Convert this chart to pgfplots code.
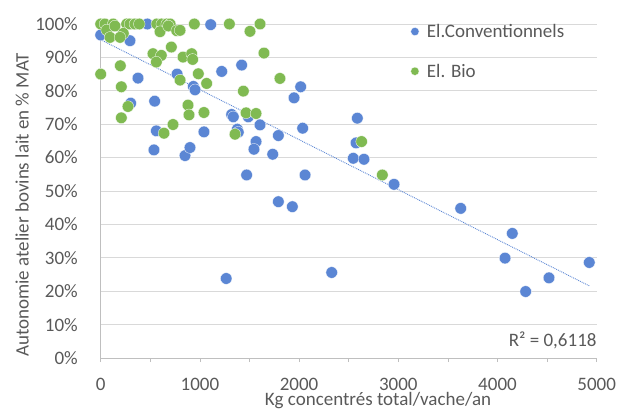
\documentclass[border=0pt]{standalone}
\usepackage{fontspec}
\setmainfont{Carlito}
\usepackage{pgfplots}
\pgfplotsset{compat=1.18}

\definecolor{txt}{RGB}{89,89,89}
\definecolor{gridc}{RGB}{217,217,217}
\definecolor{axc}{RGB}{191,191,191}
\definecolor{conv}{RGB}{91,134,212}
\definecolor{bio}{RGB}{128,186,82}

\begin{document}
\begin{tikzpicture}
\useasboundingbox (-100.7bp,-58bp) rectangle (516.3bp,358bp);
\begin{axis}[
    at={(0,0)}, anchor=south west,
    scale only axis, width=496bp, height=334bp,
    xmin=0, xmax=5000, ymin=0, ymax=100,
    clip=false,
    axis lines*=left,
    axis line style={axc, line width=0.75bp},
    xtick={0,1000,...,5000},
    minor xtick={500,1500,2500,3500,4500},
    ytick={0,10,...,100},
    yticklabel={\pgfmathprintnumber{\tick}\%},
    /pgf/number format/assume math mode=true,
    /pgf/number format/set thousands separator={},
    ymajorgrids,
    grid style={gridc, line width=0.75bp},
    tick align=outside,
    major tick length=4bp, minor tick length=4bp,
    xtick style={axc, line width=0.75bp},
    minor tick style={axc, line width=0.75bp},
    ytick style={draw=none},
    tick label style={font=\fontsize{19bp}{22bp}\selectfont, text=txt, inner sep=0pt},
    yticklabel style={anchor=east, xshift=-18.7bp},
    xticklabel style={anchor=north, yshift=-16bp},
    xlabel={Kg concentrés total/vache/an},
    ylabel={Autonomie atelier bovins lait en \% MAT},
    label style={font=\fontsize{19bp}{22bp}\selectfont, text=txt, inner sep=0pt},
    xlabel style={at={(axis description cs:0.559,0)}, anchor=center, yshift=-42.5bp},
    ylabel style={at={(axis description cs:0,0.458)}, anchor=center, rotate=0, yshift=78.7bp},
    legend style={draw=none, fill=none, inner sep=0pt,
        at={(axis description cs:0.6246,1.0)}, anchor=north west,
        nodes={inner sep=0pt, text=txt, font=\fontsize{19bp}{22bp}\selectfont},
        row sep=25bp, column sep=7.8bp},
    legend cell align=left,
    legend image code/.code={\draw[#1, mark size=4.2bp] plot coordinates {(0bp,0bp)};},
]
\addplot[only marks, mark=*, color=conv, mark size=5.8bp,
    mark options={fill=conv, draw=white, line width=0.3bp}] coordinates {
(0,96.7) (295,95) (470,100) (1109,99.8) (376,83.8) (1421,87.7) (1220,85.8)
(770,85) (934,81.3) (951,80.3) (302,76.3) (544,76.9) (1320,72.9) (1337,72.2)
(1488,72.2) (1606,69.8) (1377,68.5) (1387,67.6) (1041,67.7) (561,68)
(537,62.3) (850,60.6) (900,63) (1566,64.8) (1545,62.5) (1734,61) (1791,66.6)
(2036,68.8) (2016,81.2) (1949,77.9) (2587,71.8) (1471,54.8) (2060,54.8)
(1791,46.8) (1932,45.3) (2574,64.4) (2546,59.8) (2654,59.5) (2957,52)
(3629,44.8) (4149,37.3) (4076,29.9) (4519,24) (4284,19.9) (4925,28.6)
(2329,25.6) (1265,23.8)
};
\addlegendentry{El.Conventionnels}
\addplot[only marks, mark=*, color=bio, mark size=5.8bp,
    mark options={fill=bio, draw=white, line width=0.3bp}] coordinates {
(0,100) (43,100) (126,100) (262,100) (295,100) (345,100) (389,100) (565,100)
(615,100) (665,100) (700,100) (944,100) (1297,100) (1606,100)
(60,98.2) (144,99.4) (228,97.2) (94,96) (195,96) (598,97.7) (682,99.4)
(766,98) (800,98.1) (1505,97.8)
(712,93.1) (527,91.1) (611,90.6) (561,88.6) (830,90.1) (917,91.1) (927,89.4)
(1646,91.3) (198,87.5) (0,85) (984,85.1) (1807,83.7) (800,83.2) (1068,82.2)
(208,81.2) (1438,79.9) (275,75.3) (880,75.7) (890,72.8) (1041,73.5)
(1465,73.4) (1566,73.2) (208,71.9) (729,69.9) (638,67.3) (1354,67)
(2630,64.8) (2839,54.8)
};
\addlegendentry{El. Bio}
% linear trend line (Excel), end points
\addplot[forget plot, conv, densely dotted, line width=0.9bp] coordinates {(0,95.3) (4925,21.6)};
\node[anchor=east, inner sep=0pt, text=txt, font=\fontsize{19bp}{22bp}\selectfont]
    at (axis cs:5000,5.4) {R² = 0,6118};
\end{axis}
\end{tikzpicture}
\end{document}
